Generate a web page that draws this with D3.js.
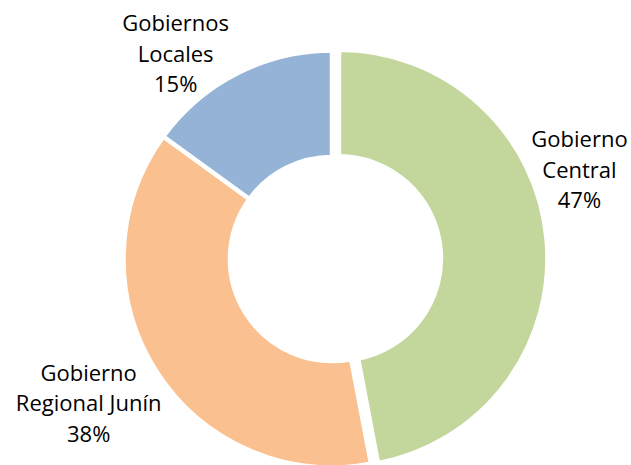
<!DOCTYPE html>
<html>
<head>
<meta charset="utf-8">
<script src="https://cdn.jsdelivr.net/npm/d3@7"></script>
<style>
  html, body { margin: 0; padding: 0; background: #fff; }
  svg { display: block; }
</style>
</head>
<body>
<div id="grafico"></div>
<script>
// ==================== DATOS ====================
const categorias = ["Gobierno Central", "Gobierno Regional Junín", "Gobiernos Locales"];
const porcentajes = [47, 38, 15];
const colores = ["#C3D69B", "#FAC090", "#95B3D7"];

// ==================== DIMENSIONES ====================
const width = 631;
const height = 465;
const centro = { x: 332, y: 259 };
const radioExterior = 208.5;
const radioInterior = 102;
const explosion = [7, 0, 0];          // desplazamiento de cada porción (px)
// posición de la etiqueta: ajuste de ángulo (grados) y radio respecto al centro
const etiquetas = [
  { dAngulo: -14.4, radio: 263 },
  { dAngulo: 1.7, radio: 283 },
  { dAngulo: -10.3, radio: 258 }
];

const datos = categorias.map((c, i) => ({ categoria: c, valor: porcentajes[i], i }));

const pie = d3.pie().sort(null).value(d => d.valor).startAngle(0).endAngle(2 * Math.PI);
const arcs = pie(datos);

const arco = d3.arc().innerRadius(radioInterior).outerRadius(radioExterior);

const color = d3.scaleOrdinal().domain(categorias).range(colores);

const svg = d3.select("#grafico")
  .append("svg")
  .attr("width", width)
  .attr("height", height)
  .attr("viewBox", [0, 0, width, height]);

const g = svg.append("g").attr("transform", `translate(${centro.x},${centro.y})`);

g.selectAll("path")
  .data(arcs)
  .join("path")
  .attr("d", arco)
  .attr("fill", d => color(d.data.categoria))
  .attr("stroke", "#fff")
  .attr("stroke-width", 4.5)
  .attr("stroke-linejoin", "miter")
  .attr("transform", d => {
    const medio = (d.startAngle + d.endAngle) / 2;
    const e = explosion[d.data.i];
    return `translate(${e * Math.sin(medio)},${-e * Math.cos(medio)})`;
  });

// ==================== ETIQUETAS ====================
const alturaLinea = 30.5;

const textos = g.selectAll("text.etiqueta")
  .data(arcs)
  .join("text")
  .attr("class", "etiqueta")
  .attr("text-anchor", "middle")
  .attr("font-family", "'Open Sans', sans-serif")
  .attr("font-size", 22)
  .attr("fill", "#000")
  .attr("transform", d => {
    const cfg = etiquetas[d.data.i];
    const a = (d.startAngle + d.endAngle) / 2 + cfg.dAngulo * Math.PI / 180;
    return `translate(${cfg.radio * Math.sin(a)},${-cfg.radio * Math.cos(a)})`;
  });

textos.each(function(d) {
  const nombre = d.data.categoria;
  const corte = nombre.indexOf(" ");
  const lineas = [nombre.slice(0, corte), nombre.slice(corte + 1), d.data.valor + "%"];
  d3.select(this).selectAll("tspan")
    .data(lineas)
    .join("tspan")
    .attr("x", 0)
    .attr("y", (l, k) => (k - 1) * alturaLinea + 8)
    .text(l => l);
});
</script>
</body>
</html>
